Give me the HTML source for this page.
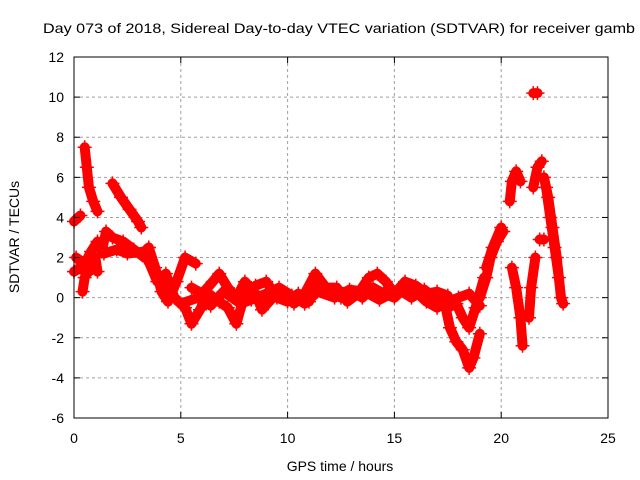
<!DOCTYPE html>
<html><head><meta charset="utf-8"><style>
body{margin:0;background:#fff;}
svg{display:block;font-family:"Liberation Sans",sans-serif;}
</style></head><body>
<svg id="chart" width="640" height="480" viewBox="0 0 640 480" xmlns="http://www.w3.org/2000/svg">
<text x="43" y="33" font-size="14" textLength="592" lengthAdjust="spacingAndGlyphs">Day 073 of 2018, Sidereal Day-to-day VTEC variation (SDTVAR) for receiver gamb</text>
<g id="grid"></g>
<g id="marks"></g>
<g id="axes"></g>
<text x="340" y="471" font-size="14" text-anchor="middle">GPS time / hours</text>
<text transform="translate(19,237) rotate(-90)" font-size="14" text-anchor="middle">SDTVAR / TECUs</text>
</svg>
<script>
const xTicks=[0,5,10,15,20,25];
const yTicks=[-6,-4,-2,0,2,4,6,8,10,12];
const trackA=[[0.0,3.8],[0.3,4.1]];
const trackB=[[0.5,7.5],[0.6,6.5],[0.7,5.5],[0.9,4.8],[1.1,4.3]];
const trackC=[[1.8,5.7],[2.2,5.0],[2.6,4.4],[3.0,3.8],[3.15,3.5]];
const trackD=[[0,1.3],[0.3,1.5],[0.6,1.2],[0.9,1.5],[1.0,2.0],[1.1,1.3]];
const trackE=[[0.1,2.0],[0.5,1.7],[0.8,2.3],[1.1,2.8]];
const trackF=[[0.4,0.3],[0.5,1.0]];
const trackG=[[1.3,2.3],[1.5,3.3],[1.8,3.0],[2.3,2.8],[2.8,2.4],[3.3,2.0]];
const trackH=[[1.4,2.2],[2.0,2.4],[2.5,2.2],[3.3,2.3],[3.5,2.5]];
const trackI=[[3.5,2.5],[3.8,1.5],[4.1,0.3],[4.4,-0.2],[4.8,0.8],[5.2,2.0],[5.7,1.7]];
const trackJ=[[3.5,1.8],[3.9,0.8],[4.3,1.2],[4.7,0.0],[5.2,-0.5],[5.5,-1.3],[5.9,-0.6],[6.3,0.2],[6.8,-0.2],[7.2,-0.5],[7.6,-1.3],[8.0,0.2],[8.5,0.6],[9.0,0.8],[9.5,0],[10,-0.2],[10.5,0.2],[11,-0.2],[11.5,0.8],[12,0.3],[12.5,0],[13,0.3],[13.5,0],[14,0.5],[14.5,0.2],[15,0],[15.5,0.5],[16,0.3],[16.5,-0.2],[17,-0.5],[17.5,-0.2],[18,0],[18.5,0.2],[19,-0.4]];
const trackK=[[5.5,0.5],[6,0.2],[6.5,0.8],[6.8,1.2],[7.2,0.5],[7.6,0],[8,0.8],[8.5,0.2],[8.8,-0.6],[9.3,0],[9.8,0.3],[10.3,-0.3],[10.8,0.2],[11.3,1.2],[11.8,0.5],[12.3,0.5],[12.8,-0.2],[13.3,0.2],[13.8,1.0],[14.2,1.2],[14.6,0.8],[15,0.2],[15.5,0.8],[16,0.6],[16.5,0.2],[17,0.3],[17.5,0.1]];
const trackX=[[4.0,1.0],[4.5,0.2],[5.0,-0.3],[5.8,0.0],[6.4,-0.4],[7.0,0.3],[7.8,-0.3],[8.3,-0.1],[9.0,0.2],[9.6,0.5],[10.2,0.1],[10.8,-0.3],[11.4,0.3],[12.2,0],[12.9,0.4],[13.6,0.3],[14.3,-0.1],[15.2,0.4],[15.8,0],[16.4,0.4],[17.0,-0.1]];
const trackL=[[17.3,0],[17.6,-1.5],[17.9,-2.2],[18.2,-2.6],[18.5,-3.5],[18.7,-3.0],[19,-1.8]];
const trackM=[[17.5,-0.5],[17.9,-0.3],[18.2,-1],[18.5,-1.5],[18.8,-0.5],[19.2,1]];
const trackN=[[19,0],[19.3,1.0],[19.5,2],[19.8,2.8],[20.1,3.3]];
const trackO=[[19.3,1.5],[19.6,2.5],[20,3.5]];
const trackP=[[20.4,4.8],[20.5,5.8],[20.7,6.3],[20.9,5.8]];
const trackQ=[[20.5,1.5],[20.7,0.5],[20.9,-1],[21,-2.4]];
const trackR=[[21.3,-1.0],[21.4,0.5],[21.6,2]];
const trackS=[[21.5,10.2],[21.7,10.2]];
const trackT=[[21.5,5.5],[21.7,6.5],[21.9,6.8]];
const trackU=[[22,6],[22.2,5],[22.4,3.5],[22.6,2],[22.8,0],[22.9,-0.3]];
const trackV=[[22.1,5.5],[22.3,4],[22.5,2.5],[22.7,1]];
const trackW=[[21.8,2.9],[22.0,2.9]];
const tracks=[trackA,trackB,trackC,trackD,trackE,trackF,trackG,trackH,trackI,trackJ,trackK,trackX,trackL,trackM,trackN,trackO,trackP,trackQ,trackR,trackS,trackT,trackU,trackV,trackW];

const L=74,R=608,T=57,B=418,xmin=0,xmax=25,ymin=-6,ymax=12;
const X=t=>L+(t-xmin)/(xmax-xmin)*(R-L);
const Y=v=>B-(v-ymin)/(ymax-ymin)*(B-T);
const NS="http://www.w3.org/2000/svg";
const grid=document.getElementById('grid'),marks=document.getElementById('marks'),axes=document.getElementById('axes');
function mk(tag,attrs,parent){const e=document.createElementNS(NS,tag);for(const k in attrs)e.setAttribute(k,attrs[k]);parent.appendChild(e);return e;}
xTicks.forEach(t=>{
  if(t>xmin&&t<xmax){const g=mk('line',{x1:X(t),x2:X(t),y1:T,y2:B,stroke:'#a0a0a0','stroke-dasharray':'3,3'},grid);
  
  }
  const tk=mk('line',{x1:X(t),x2:X(t),y1:B,y2:B-6,stroke:'#000'},axes);
  
  
  const tk2=mk('line',{x1:X(t),x2:X(t),y1:T,y2:T+6,stroke:'#000'},axes);
  
  
  const lb=mk('text',{x:X(t),y:B+25,'font-size':14,'text-anchor':'middle'},axes);lb.textContent=t;
  
  
});
yTicks.forEach(v=>{
  if(v>ymin&&v<ymax){const g=mk('line',{x1:L,x2:R,y1:Y(v),y2:Y(v),stroke:'#a0a0a0','stroke-dasharray':'3,3'},grid);
  
  }
  const tk=mk('line',{x1:L,x2:L+6,y1:Y(v),y2:Y(v),stroke:'#000'},axes);
  
  
  const tk2=mk('line',{x1:R,x2:R-6,y1:Y(v),y2:Y(v),stroke:'#000'},axes);
  
  
  const lb=mk('text',{x:L-10,y:Y(v)+5,'font-size':14,'text-anchor':'end'},axes);lb.textContent=v;
  
  
});
const frame=mk('rect',{x:L,y:T,width:R-L,height:B-T,fill:'none',stroke:'#000','stroke-width':1},axes);


tracks.forEach(tr=>{
  const pl=mk('polyline',{points:tr.map(p=>X(p[0])+','+Y(p[1])).join(' '),fill:'none',stroke:'#f00','stroke-width':10,'stroke-linejoin':'round','stroke-linecap':'round'},marks);
  
  
  tr.forEach(p=>{
    const x=X(p[0]),y=Y(p[1]);
    const m=mk('path',{d:`M${x-7},${y}H${x+7}M${x},${y-7}V${y+7}`,stroke:'#f00','stroke-width':1.5},marks);
    
    
  });
});
</script>
</body></html>
